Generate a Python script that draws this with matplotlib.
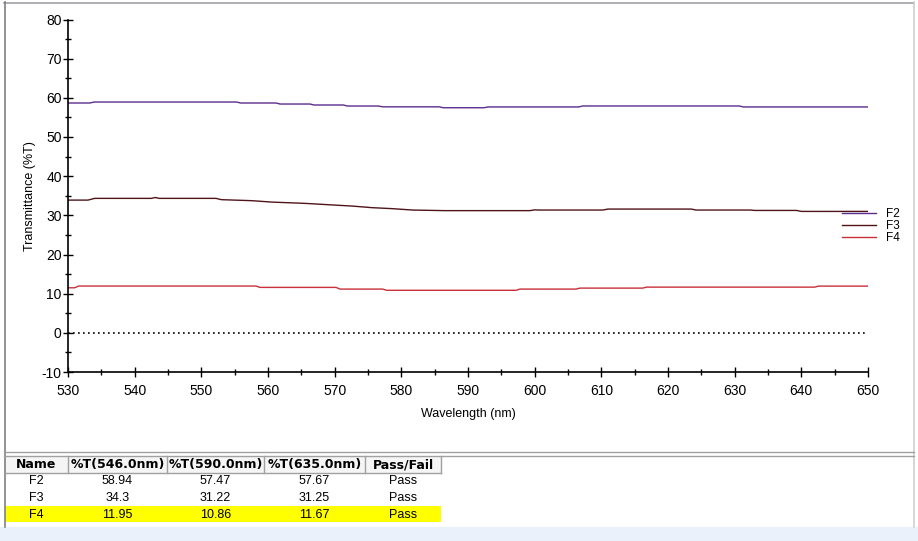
import matplotlib
matplotlib.use("Agg")
import matplotlib.pyplot as plt
from matplotlib.patches import Rectangle
from matplotlib.lines import Line2D

# ==================== DATA ====================
f2_wl = [530, 533.3, 533.9, 555.3, 555.9, 561.2, 561.8, 566.3, 566.9, 571.3, 571.9, 576.6, 577.2,
         585.7, 586.3, 592.4, 593.0, 606.6, 607.2, 630.7, 631.3, 650]
f2_t = [58.68, 58.68, 58.93, 58.93, 58.68, 58.68, 58.42, 58.42, 58.17, 58.17, 57.91, 57.91, 57.70,
        57.70, 57.47, 57.47, 57.67, 57.67, 57.92, 57.92, 57.67, 57.67]

f3_wl = [530, 533.0, 534.0, 542.5, 543.1, 543.7, 552.2, 553.0, 557.6, 560.6, 565.6, 570.8, 572.6,
         575.6, 578.7, 581.7, 586.5, 599.3, 600.0, 600.6, 610.2, 611.0, 623.5, 624.2, 632.4,
         633.0, 639.3, 640.0, 650]
f3_t = [33.89, 33.89, 34.33, 34.33, 34.55, 34.33, 34.33, 34.00, 33.74, 33.38, 33.05, 32.54, 32.37,
        31.96, 31.70, 31.35, 31.20, 31.20, 31.40, 31.35, 31.35, 31.60, 31.60, 31.35, 31.35,
        31.25, 31.25, 31.00, 31.00]

f4_wl = [530, 531.0, 531.6, 558.2, 558.8, 570.2, 570.8, 577.2, 577.8, 597.2, 597.8, 606.2, 606.8,
         616.2, 616.8, 642.0, 642.6, 650]
f4_t = [11.50, 11.50, 11.95, 11.95, 11.60, 11.60, 11.17, 11.17, 10.86, 10.86, 11.17, 11.17, 11.42,
        11.42, 11.67, 11.67, 11.93, 11.93]

series_names = ["F2", "F3", "F4"]
series_colors = ["#5b2d8e", "#4f1419", "#c8303a"]

x_ticks = list(range(530, 651, 10))
y_ticks = list(range(-10, 81, 10))

table_header = ["Name", "%T(546.0nm)", "%T(590.0nm)", "%T(635.0nm)", "Pass/Fail"]
table_names = ["F2", "F3", "F4"]
t546 = ["58.94", "34.3", "11.95"]
t590 = ["57.47", "31.22", "10.86"]
t635 = ["57.67", "31.25", "11.67"]
pass_fail = ["Pass", "Pass", "Pass"]

# ==================== FIGURE ====================
W, H = 918, 541
plt.rcParams["font.family"] = ["Liberation Sans", "DejaVu Sans"]
plt.rcParams["axes.unicode_minus"] = False
fig = plt.figure(figsize=(W / 100, H / 100), dpi=100)
fig.patch.set_facecolor("white")


def fx(x):
    return x / W


def fy(y):
    return 1 - y / H


# window frame
fig.add_artist(Rectangle((0, 0), 1, fy(527), transform=fig.transFigure, color="#eaf1fa", zorder=0))
fig.add_artist(Line2D([fx(4), fx(914)], [fy(2.5), fy(2.5)], transform=fig.transFigure, color="#a0a0a8", lw=1.2))
fig.add_artist(Line2D([fx(4.5), fx(4.5)], [fy(2), fy(527)], transform=fig.transFigure, color="#808080", lw=1.2))
fig.add_artist(Line2D([fx(914), fx(914)], [fy(2), fy(527)], transform=fig.transFigure, color="#d0d0d0", lw=1.2))
for yy in (451.5, 455.5):
    fig.add_artist(Line2D([fx(4), fx(914)], [fy(yy), fy(yy)], transform=fig.transFigure, color="#a0a0a0", lw=1.0))

# ==================== PLOT ====================
ax = fig.add_axes([fx(68), fy(372), fx(868) - fx(68), fy(19.5) - fy(372)])
for wl, t, name, c in zip([f2_wl, f3_wl, f4_wl], [f2_t, f3_t, f4_t], series_names, series_colors):
    ax.plot(wl, t, color=c, lw=1.0, label=name)
ax.plot([530, 650], [0, 0], color="black", lw=1.2, linestyle=(0, (1, 2)))

ax.set_xlim(530, 650)
ax.set_ylim(-10, 80)
ax.set_xticks(x_ticks)
ax.set_yticks(y_ticks)
ax.set_xticks(range(535, 650, 10), minor=True)
ax.set_yticks(range(-5, 80, 10), minor=True)
ax.tick_params(which="major", direction="inout", length=7, width=1, labelsize=10)
ax.tick_params(axis="x", which="major", pad=5)
ax.tick_params(axis="y", which="major", pad=1)
ax.tick_params(which="minor", direction="inout", length=5, width=1)
for s in ("top", "right"):
    ax.spines[s].set_visible(False)
for s in ("left", "bottom"):
    ax.spines[s].set_linewidth(1.2)
ax.set_xlabel("Wavelength (nm)", fontsize=9, labelpad=7)
ax.set_ylabel("Transmittance (%T)", fontsize=9, labelpad=4)

ax.legend(loc="upper left", bbox_to_anchor=(fx(842), fy(208)), bbox_transform=fig.transFigure,
          frameon=False, fontsize=8.5, handlelength=2.9, handletextpad=0.8,
          labelspacing=0.0, borderpad=0, borderaxespad=0)

# ==================== TABLE ====================
col_edges = [5, 68, 167, 264, 365, 441]
hdr_top, hdr_bot = 456, 472.5
row_centers = [481.5, 498, 514.5]

fig.add_artist(Rectangle((fx(5), fy(hdr_bot)), fx(441) - fx(5), fy(hdr_top) - fy(hdr_bot),
                         transform=fig.transFigure, facecolor="#f5f5f5", edgecolor="none"))
fig.add_artist(Rectangle((fx(5), fy(522)), fx(441) - fx(5), fy(506) - fy(522),
                         transform=fig.transFigure, facecolor="#ffff00", edgecolor="none"))
fig.add_artist(Line2D([fx(5), fx(441)], [fy(hdr_bot), fy(hdr_bot)], transform=fig.transFigure,
                      color="#a0a0a0", lw=1.0))
for xe in col_edges[1:]:
    fig.add_artist(Line2D([fx(xe), fx(xe)], [fy(hdr_top), fy(hdr_bot)], transform=fig.transFigure,
                          color="#a0a0a0", lw=1.0))

for i, h in enumerate(table_header):
    cx = (col_edges[i] + col_edges[i + 1]) / 2
    fig.text(fx(cx), fy((hdr_top + hdr_bot) / 2 + 0.5), h, ha="center", va="center",
             fontsize=9, fontweight="bold", family="DejaVu Sans")

columns = [table_names, t546, t590, t635, pass_fail]
for j, col in enumerate(columns):
    cx = (col_edges[j] + col_edges[j + 1]) / 2
    for i, val in enumerate(col):
        fig.text(fx(cx), fy(row_centers[i]), val, ha="center", va="center", fontsize=9)

fig.savefig("out.png", dpi=100)
